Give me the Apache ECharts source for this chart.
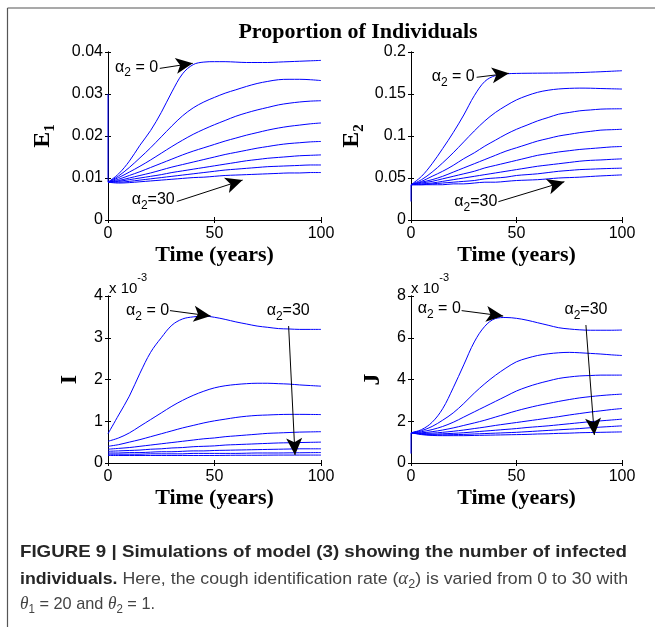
<!DOCTYPE html>
<html><head><meta charset="utf-8">
<script src="https://cdn.jsdelivr.net/npm/echarts@6/dist/echarts.min.js"></script>
<style>html,body{margin:0;padding:0;background:#fff}#c{width:655px;height:627px}</style>
</head><body><div id="c"></div>
<script>
// ---------- DATA ----------
const T = [0, 5, 10, 15, 20, 25, 30, 35, 40, 45, 50, 55, 60, 65, 70, 75, 80, 85, 90, 95, 100];
const X_TICKS = [0, 50, 100];

// E1 (alpha2 from 0 to 30, top to bottom)
const E1_START = 0.030;
const E1 = [
  [0.0090, 0.0110, 0.0140, 0.0178, 0.0213, 0.0256, 0.0305, 0.0348, 0.0370, 0.0376, 0.0377, 0.0377, 0.0376, 0.0375, 0.0375, 0.0375, 0.0376, 0.0377, 0.0378, 0.0379, 0.0380],
  [0.0090, 0.0105, 0.0125, 0.0148, 0.0172, 0.0198, 0.0224, 0.0248, 0.0267, 0.0281, 0.0292, 0.0302, 0.0310, 0.0318, 0.0325, 0.0330, 0.0334, 0.0335, 0.0335, 0.0334, 0.0332],
  [0.0090, 0.0101, 0.0114, 0.0128, 0.0143, 0.0159, 0.0175, 0.0190, 0.0204, 0.0216, 0.0227, 0.0237, 0.0247, 0.0255, 0.0262, 0.0268, 0.0274, 0.0278, 0.0281, 0.0283, 0.0284],
  [0.0090, 0.0097, 0.0106, 0.0115, 0.0125, 0.0135, 0.0145, 0.0155, 0.0164, 0.0172, 0.0180, 0.0188, 0.0195, 0.0202, 0.0208, 0.0214, 0.0219, 0.0223, 0.0226, 0.0229, 0.0231],
  [0.0090, 0.0094, 0.0100, 0.0106, 0.0112, 0.0119, 0.0126, 0.0132, 0.0138, 0.0144, 0.0150, 0.0156, 0.0161, 0.0166, 0.0171, 0.0175, 0.0179, 0.0182, 0.0184, 0.0186, 0.0187],
  [0.0090, 0.0092, 0.0096, 0.0100, 0.0104, 0.0108, 0.0113, 0.0117, 0.0121, 0.0125, 0.0129, 0.0133, 0.0137, 0.0141, 0.0144, 0.0147, 0.0149, 0.0151, 0.0153, 0.0154, 0.0155],
  [0.0090, 0.0090, 0.0092, 0.0095, 0.0098, 0.0101, 0.0104, 0.0107, 0.0110, 0.0113, 0.0116, 0.0119, 0.0121, 0.0123, 0.0125, 0.0127, 0.0128, 0.0129, 0.0130, 0.0131, 0.0131],
  [0.0090, 0.0088, 0.0089, 0.0091, 0.0093, 0.0095, 0.0097, 0.0099, 0.0101, 0.0102, 0.0104, 0.0106, 0.0107, 0.0108, 0.0109, 0.0110, 0.0111, 0.0112, 0.0112, 0.0113, 0.0113]
];

// E2
const E2_START = 0.022;
const E2 = [
  [0.042, 0.052, 0.067, 0.085, 0.104, 0.125, 0.148, 0.165, 0.172, 0.174, 0.1745, 0.1747, 0.1748, 0.1749, 0.1750, 0.1752, 0.1755, 0.1760, 0.1765, 0.1771, 0.1777],
  [0.042, 0.048, 0.057, 0.068, 0.080, 0.093, 0.106, 0.118, 0.128, 0.136, 0.143, 0.148, 0.152, 0.1545, 0.156, 0.1567, 0.157, 0.1569, 0.1565, 0.1562, 0.1559],
  [0.042, 0.046, 0.052, 0.058, 0.065, 0.073, 0.080, 0.088, 0.095, 0.102, 0.108, 0.113, 0.118, 0.122, 0.126, 0.128, 0.130, 0.131, 0.132, 0.1323, 0.1324],
  [0.042, 0.045, 0.048, 0.052, 0.057, 0.062, 0.067, 0.072, 0.077, 0.082, 0.086, 0.090, 0.094, 0.097, 0.100, 0.102, 0.104, 0.1055, 0.107, 0.1075, 0.108],
  [0.042, 0.044, 0.046, 0.049, 0.052, 0.055, 0.058, 0.062, 0.065, 0.068, 0.071, 0.074, 0.077, 0.079, 0.081, 0.0825, 0.084, 0.085, 0.086, 0.087, 0.0875],
  [0.042, 0.043, 0.044, 0.046, 0.048, 0.050, 0.052, 0.054, 0.056, 0.058, 0.060, 0.062, 0.064, 0.0655, 0.067, 0.0685, 0.070, 0.071, 0.0715, 0.0722, 0.0728],
  [0.042, 0.042, 0.043, 0.044, 0.045, 0.046, 0.047, 0.049, 0.050, 0.051, 0.053, 0.054, 0.055, 0.0565, 0.058, 0.059, 0.060, 0.0605, 0.061, 0.0614, 0.0617],
  [0.042, 0.042, 0.042, 0.042, 0.043, 0.043, 0.044, 0.045, 0.045, 0.046, 0.047, 0.0475, 0.048, 0.049, 0.050, 0.0505, 0.051, 0.0518, 0.0525, 0.0531, 0.0537]
];

// I (x 10^-3)
const I_START = null;
const I = [
  [0.70, 1.15, 1.60, 2.15, 2.65, 3.00, 3.30, 3.45, 3.50, 3.52, 3.49, 3.44, 3.38, 3.33, 3.28, 3.25, 3.22, 3.21, 3.20, 3.20, 3.20],
  [0.52, 0.60, 0.72, 0.88, 1.04, 1.20, 1.36, 1.50, 1.62, 1.72, 1.80, 1.85, 1.88, 1.90, 1.91, 1.91, 1.90, 1.89, 1.87, 1.855, 1.84],
  [0.40, 0.44, 0.50, 0.56, 0.63, 0.70, 0.77, 0.84, 0.90, 0.96, 1.01, 1.05, 1.09, 1.12, 1.14, 1.15, 1.16, 1.165, 1.165, 1.163, 1.16],
  [0.33, 0.35, 0.37, 0.40, 0.43, 0.46, 0.49, 0.52, 0.55, 0.58, 0.60, 0.63, 0.65, 0.67, 0.69, 0.71, 0.72, 0.73, 0.74, 0.745, 0.75],
  [0.28, 0.29, 0.30, 0.31, 0.33, 0.34, 0.36, 0.37, 0.39, 0.40, 0.41, 0.43, 0.44, 0.45, 0.46, 0.47, 0.48, 0.485, 0.49, 0.495, 0.50],
  [0.24, 0.24, 0.25, 0.25, 0.26, 0.27, 0.27, 0.28, 0.29, 0.29, 0.30, 0.305, 0.31, 0.315, 0.32, 0.325, 0.33, 0.335, 0.34, 0.34, 0.34],
  [0.21, 0.21, 0.21, 0.21, 0.22, 0.22, 0.22, 0.22, 0.23, 0.23, 0.23, 0.23, 0.23, 0.235, 0.24, 0.24, 0.24, 0.243, 0.245, 0.248, 0.25],
  [0.18, 0.18, 0.18, 0.18, 0.18, 0.18, 0.18, 0.18, 0.18, 0.18, 0.18, 0.182, 0.185, 0.185, 0.185, 0.188, 0.19, 0.19, 0.19, 0.19, 0.19]
];

// J (x 10^-3)
const J_START = 0.45;
const J = [
  [1.45, 1.60, 1.95, 2.60, 3.60, 4.70, 5.80, 6.55, 6.92, 6.97, 6.93, 6.84, 6.72, 6.60, 6.48, 6.42, 6.38, 6.36, 6.36, 6.36, 6.37],
  [1.45, 1.55, 1.75, 2.05, 2.40, 2.85, 3.35, 3.80, 4.20, 4.55, 4.85, 5.02, 5.15, 5.23, 5.28, 5.30, 5.28, 5.25, 5.22, 5.18, 5.15],
  [1.45, 1.50, 1.60, 1.75, 1.95, 2.20, 2.45, 2.70, 2.95, 3.20, 3.45, 3.64, 3.80, 3.93, 4.05, 4.12, 4.17, 4.19, 4.21, 4.21, 4.21],
  [1.45, 1.45, 1.50, 1.58, 1.68, 1.80, 1.92, 2.05, 2.20, 2.35, 2.50, 2.63, 2.75, 2.85, 2.95, 3.04, 3.12, 3.18, 3.23, 3.27, 3.30],
  [1.45, 1.42, 1.43, 1.47, 1.52, 1.58, 1.65, 1.72, 1.80, 1.87, 1.94, 2.01, 2.08, 2.15, 2.22, 2.30, 2.37, 2.44, 2.50, 2.56, 2.61],
  [1.45, 1.40, 1.38, 1.40, 1.42, 1.45, 1.49, 1.53, 1.57, 1.61, 1.65, 1.70, 1.74, 1.78, 1.83, 1.88, 1.93, 1.98, 2.02, 2.06, 2.10],
  [1.45, 1.38, 1.35, 1.35, 1.36, 1.37, 1.39, 1.41, 1.43, 1.45, 1.47, 1.50, 1.53, 1.56, 1.59, 1.62, 1.65, 1.69, 1.72, 1.75, 1.78],
  [1.45, 1.36, 1.32, 1.31, 1.31, 1.31, 1.32, 1.33, 1.34, 1.35, 1.36, 1.37, 1.39, 1.40, 1.42, 1.43, 1.45, 1.46, 1.47, 1.48, 1.49]
];

// Annotations (data coordinates): label anchor, arrow start, arrow tip
const ANN_E1 = [
  {label: ' = 0', at: [3.3, 0.0364], from: [24.3, 0.0361], to: [39.8, 0.0373]},
  {label: '=30', at: [11.1, 0.0048], from: [32.3, 0.0044], to: [63.2, 0.0095]}
];
const ANN_E2 = [
  {label: ' = 0', at: [9.8, 0.1706], from: [31.1, 0.1699], to: [46.4, 0.1746]},
  {label: '=30', at: [20.5, 0.0218], from: [41.4, 0.0218], to: [72.7, 0.0456]}
];
const ANN_I = [
  {label: ' = 0', at: [8.5, 3.66], from: [29.1, 3.65], to: [48.2, 3.52]},
  {label: '=30', at: [74.5, 3.66], from: [84.8, 3.28], to: [87.8, 0.19]}
];
const ANN_J = [
  {label: ' = 0', at: [3.2, 7.41], from: [24.0, 7.30], to: [43.7, 7.04]},
  {label: '=30', at: [72.7, 7.33], from: [82.9, 6.61], to: [86.9, 1.34]}
];

const TITLE = 'Proportion of Individuals';
const X_NAME = 'Time (years)';
const CAPTION_1 = 'FIGURE 9 | Simulations of model (3) showing the number of infected';

// ---------- LAYOUT / STYLE ----------
const SANS = '"Liberation Sans", Arial, Helvetica, sans-serif';
const SERIF = '"Liberation Serif", "Times New Roman", serif';
const BLUE = '#0000ff';

const panels = [
  {curves: E1, start: E1_START, max: 0.04, step: 0.01, name: 'E', sub: '1', ann: ANN_E1,
   grid: {left: 108, top: 52, width: 213, height: 168}, nameGap: 50},
  {curves: E2, start: E2_START, max: 0.2, step: 0.05, name: 'E', sub: '2', ann: ANN_E2,
   grid: {left: 411, top: 52, width: 211, height: 168}, nameGap: 44},
  {curves: I, start: I_START, max: 4, step: 1, name: 'I', sub: '', ann: ANN_I,
   grid: {left: 108, top: 296, width: 213, height: 167}, nameGap: 23},
  {curves: J, start: J_START, max: 8, step: 2, name: 'J', sub: '', ann: ANN_J,
   grid: {left: 411, top: 296, width: 211, height: 167}, nameGap: 23}
];

const annRich = {
  m: {fontFamily: SANS, fontSize: 16, color: '#000', verticalAlign: 'middle', lineHeight: 24},
  s: {fontFamily: SANS, fontSize: 12, color: '#000', verticalAlign: 'bottom', lineHeight: 24}
};

const grids = [], xAxes = [], yAxes = [], series = [];
const axisLine = {show: true, lineStyle: {color: '#000', width: 1}};
const tick = {show: true, inside: true, length: 3, lineStyle: {color: '#000', width: 1}};

panels.forEach((p, i) => {
  grids.push(Object.assign({containLabel: false}, p.grid));
  xAxes.push({
    type: 'value', gridIndex: i, min: 0, max: 100, interval: 50, position: 'bottom',
    axisLine, axisTick: tick, splitLine: {show: false},
    axisLabel: {show: true, color: '#000', fontFamily: SANS, fontSize: 16, margin: 6,
                formatter: v => X_TICKS.includes(v) ? String(v) : ''},
    name: X_NAME, nameLocation: 'middle', nameGap: 24,
    nameTextStyle: {fontFamily: SERIF, fontWeight: 'bold', fontSize: 22, color: '#000'}
  });
  xAxes.push({
    type: 'value', gridIndex: i, min: 0, max: 100, interval: 50, position: 'top',
    axisLine, axisTick: tick, axisLabel: {show: false}, splitLine: {show: false}
  });
  yAxes.push({
    type: 'value', gridIndex: i, min: 0, max: p.max, interval: p.step, position: 'left',
    axisLine, axisTick: tick, splitLine: {show: false},
    axisLabel: {show: true, color: '#000', fontFamily: SANS, fontSize: 16, margin: 5,
                formatter: v => String(+v.toFixed(4))},
    name: p.sub ? '{m|' + p.name + '}{s|' + p.sub + '}' : '{m|' + p.name + '}',
    nameLocation: 'middle', nameRotate: 90, nameGap: p.nameGap,
    nameTextStyle: {
      rich: {
        m: {fontFamily: SERIF, fontWeight: 'bold', fontSize: 24, color: '#000', verticalAlign: 'middle', lineHeight: 30},
        s: {fontFamily: SERIF, fontWeight: 'bold', fontSize: 15, color: '#000', verticalAlign: 'bottom', lineHeight: 30}
      }
    }
  });
  yAxes.push({
    type: 'value', gridIndex: i, min: 0, max: p.max, interval: p.step, position: 'right',
    axisLine, axisTick: tick, axisLabel: {show: false}, splitLine: {show: false}
  });

  p.curves.forEach((c, k) => {
    const s = {
      type: 'line', xAxisIndex: 2 * i, yAxisIndex: 2 * i,
      data: T.map((t, j) => [t, c[j]]),
      smooth: 0.35, symbol: 'none', silent: true,
      lineStyle: {color: BLUE, width: 1}
    };
    if (k === 0) {
      s.markLine = {
        silent: true, symbol: ['none', 'arrow'], symbolSize: [12, 17],
        label: {show: false}, lineStyle: {color: '#000', width: 1, type: 'solid'},
        emphasis: {disabled: true},
        data: p.ann.map(a => [{coord: a.from}, {coord: a.to}])
      };
      s.markPoint = {
        silent: true, symbol: 'circle', symbolSize: 0,
        data: p.ann.map(a => ({
          coord: a.at,
          label: {show: true, position: 'right', distance: 0,
                  formatter: () => '{m|α}{s|2}{m|' + a.label.replace(/ /g, '\u00a0') + '}', rich: annRich}
        }))
      };
    }
    series.push(s);
  });
  if (p.start !== null) {
    series.push({
      type: 'line', xAxisIndex: 2 * i, yAxisIndex: 2 * i,
      data: [[0, p.start], [0, p.curves[0][0]]],
      symbol: 'none', silent: true, lineStyle: {color: BLUE, width: 1}
    });
  }
});

// ---------- CAPTION (measured & condensed to the reference width) ----------
const ctx = document.createElement('canvas').getContext('2d');
function measure(parts) {
  return parts.reduce((w, p) => { ctx.font = p[1]; return w + ctx.measureText(p[0]).width; }, 0);
}
const FB = 'bold 17px ' + SANS, FR = '17px ' + SANS, FI = 'italic 18px ' + SERIF, FS = '12px ' + SANS;
const cap1Parts = [[CAPTION_1, FB]];
const cap2Parts = [['individuals.', FB], [' Here, the cough identification rate (', FR], ['α', FI], ['2', FS], [') is varied from 0 to 30 with', FR]];
const cap3Parts = [['θ', FI], ['1', FS], [' = 20 and ', FR], ['θ', FI], ['2', FS], [' = 1.', FR]];
const scale1 = 607 / measure(cap1Parts);
const scale2 = 608 / measure(cap2Parts);
const scale3 = 135 / measure(cap3Parts);

const capRich = {
  b: {fontFamily: SANS, fontWeight: 'bold', fontSize: 17, fill: '#262626', verticalAlign: 'middle', lineHeight: 24},
  r: {fontFamily: SANS, fontSize: 17, fill: '#444', verticalAlign: 'middle', lineHeight: 24},
  i: {fontFamily: SERIF, fontStyle: 'italic', fontSize: 18, fill: '#444', verticalAlign: 'middle', lineHeight: 24},
  s: {fontFamily: SANS, fontSize: 12, fill: '#444', verticalAlign: 'bottom', lineHeight: 24}
};
const supRich = {
  m: {fontFamily: SANS, fontSize: 15, fill: '#000', verticalAlign: 'bottom', lineHeight: 24},
  p: {fontFamily: SANS, fontSize: 11, fill: '#000', verticalAlign: 'top', lineHeight: 24}
};

const graphic = [
  {type: 'line', shape: {x1: 7.5, y1: 8, x2: 655, y2: 8}, style: {stroke: '#555', lineWidth: 1.2}, silent: true},
  {type: 'line', shape: {x1: 7.5, y1: 8, x2: 7.5, y2: 627}, style: {stroke: '#555', lineWidth: 1.2}, silent: true},
  {type: 'text', x: 358, y: 32, silent: true,
   style: {text: TITLE, fontFamily: SERIF, fontWeight: 'bold', fontSize: 22, fill: '#000', align: 'center', verticalAlign: 'middle'}},
  {type: 'text', x: 109, y: 284, silent: true,
   style: {text: '{m|x 10}{p|-3}', align: 'left', verticalAlign: 'middle', rich: supRich}},
  {type: 'text', x: 411, y: 284, silent: true,
   style: {text: '{m|x 10}{p|-3}', align: 'left', verticalAlign: 'middle', rich: supRich}},
  {type: 'text', x: 20, y: 552, scaleX: scale1, silent: true,
   style: {text: '{b|' + CAPTION_1 + '}', align: 'left', verticalAlign: 'middle', rich: capRich}},
  {type: 'text', x: 20, y: 579, scaleX: scale2, silent: true,
   style: {text: '{b|individuals.}{r| Here, the cough identification rate (}{i|α}{s|2}{r|) is varied from 0 to 30 with}',
     align: 'left', verticalAlign: 'middle', rich: capRich}},
  {type: 'text', x: 20, y: 604, scaleX: scale3, silent: true,
   style: {text: '{i|θ}{s|1}{r| = 20 and }{i|θ}{s|2}{r| = 1.}', align: 'left', verticalAlign: 'middle', rich: capRich}}
];

const chart = echarts.init(document.getElementById('c'), null, {renderer: 'canvas'});
chart.setOption({
  animation: false,
  backgroundColor: '#fff',
  grid: grids, xAxis: xAxes, yAxis: yAxes, series, graphic
});
</script>
</body></html>
